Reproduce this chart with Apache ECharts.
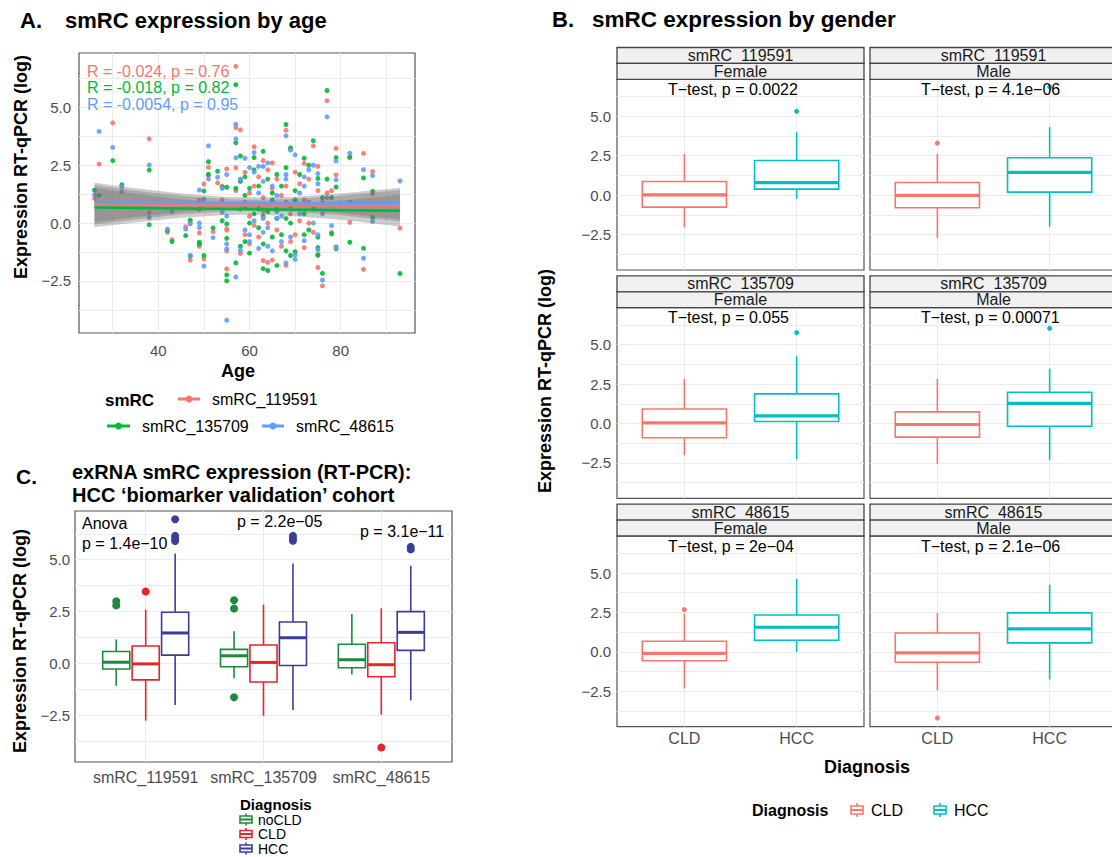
<!DOCTYPE html>
<html>
<head>
<meta charset="utf-8">
<script src="https://cdn.jsdelivr.net/npm/echarts@6/dist/echarts.min.js"></script>
<style>
  html, body { margin: 0; padding: 0; background: #fff; }
  #main { width: 1112px; height: 857px; }
</style>
</head>
<body>
<div id="main"></div>
<script>
var FONT = '"Liberation Sans", Arial, sans-serif';

// ---- data: panel A (expression by age) ----
var smrcNames = ['smRC_119591', 'smRC_135709', 'smRC_48615'];
var smrcColors = ['#F8766D', '#00BA38', '#619CFF'];
var corrLabels = ['R = -0.024, p = 0.76', 'R = -0.018, p = 0.82', 'R = -0.0054, p = 0.95'];
var ages = [26, 27, 30, 32, 38, 38, 42, 43, 46, 47,
  47, 49, 49, 49, 50, 50, 51, 51, 52, 53,
  54, 54, 55, 55, 55, 55, 55, 57, 57, 57,
  57, 58, 58, 58, 59, 59, 59, 60, 60, 60,
  61, 61, 61, 62, 62, 62, 63, 63, 63, 63,
  64, 64, 64, 65, 65, 65, 66, 66, 66, 67,
  67, 68, 68, 68, 68, 69, 69, 69, 70, 70,
  70, 71, 71, 72, 72, 72, 73, 73, 74, 74,
  75, 75, 75, 75, 76, 76, 77, 77, 78, 78,
  79, 79, 79, 82, 82, 85, 85, 87, 87, 93];
var expr119591 = [1.07, 2.55, 4.33, 1.35, 3.64, 0.46, -0.40, -0.72, -0.16, 0.04,
  -1.60, 0.99, -0.43, -1.00, 1.69, -1.55, 2.05, 2.41, -0.37, 1.74,
  1.60, 1.00, 2.34, -0.26, -1.98, -1.20, -0.30, 6.77, 4.13, 1.40,
  2.39, -1.31, 4.03, 1.90, 2.20, 0.90, -0.50, 1.30, -0.90, 0.30,
  3.30, -0.10, 1.60, -0.60, 2.00, 0.80, 2.70, -1.62, 0.50, 1.10,
  -1.70, 0.00, 2.30, -1.60, 1.50, 2.60, -0.30, 0.60, 1.90, -1.00,
  1.20, 4.01, -1.83, 0.90, 1.60, 3.20, 0.40, -0.80, 0.90, -0.50,
  2.20, 0.10, 1.70, 2.58, -1.06, 1.00, 0.00, 1.90, 3.34, -0.40,
  2.45, 1.40, -1.92, -1.40, -2.71, 0.90, 5.29, 1.30, -0.40, 1.40,
  3.23, 2.08, -1.02, 2.82, 0.03, 3.01, -2.00, 2.23, 1.25, -0.22];
var expr135709 = [1.42, 1.20, 2.70, 1.66, 2.29, -0.07, -0.32, -0.80, -0.54, 0.13,
  -1.43, 0.60, -0.83, -0.90, 1.39, -1.40, 2.65, 2.11, -0.21, 2.24,
  1.55, 0.10, 1.55, -0.04, -2.24, -0.66, -2.50, 5.98, 3.47, -1.72,
  1.50, -1.00, 2.90, 1.80, 2.00, 1.20, -0.80, 1.50, -1.30, 0.00,
  2.83, 0.40, 2.30, -0.20, 1.60, 0.60, 3.10, -1.97, -0.90, 0.30,
  -2.05, 0.50, 1.90, -0.60, 1.00, 1.30, -1.83, 0.20, 2.10, -0.50,
  1.60, 4.26, -1.20, 0.20, 2.40, 3.25, 0.00, -1.40, 1.40, -1.24,
  1.00, 0.80, 2.10, 2.80, -0.50, 0.40, -0.30, 2.50, 3.56, 0.60,
  1.93, -1.37, -0.61, -1.06, -2.17, 1.10, 5.73, 1.90, -0.47, 1.10,
  2.83, 1.56, -1.11, 2.86, -0.83, 1.95, -1.09, 1.37, 0.24, -2.18];
var expr48615 = [1.22, 3.96, 3.27, 1.56, 2.51, 0.24, -0.26, 0.50, -0.26, -0.03,
  -1.40, 1.43, 0.00, -0.19, 1.03, -1.86, 3.34, 1.90, -0.63, 1.98,
  1.50, 0.46, 2.10, 0.30, -4.20, -1.12, -0.90, 4.27, 3.64, -2.33,
  2.82, -1.17, 1.89, 0.60, 2.80, 0.70, -0.30, 2.40, -0.80, -0.50,
  3.05, 0.10, 2.20, -1.10, 1.30, 2.45, 2.45, -0.40, 0.20, 1.80,
  -1.00, -0.20, 2.60, -1.20, 0.90, 1.60, 0.20, 0.50, 1.20, -0.80,
  0.30, 3.77, -1.72, 1.90, 2.10, 3.15, -0.60, 0.70, 2.95, -1.38,
  -1.57, 0.40, 1.30, 2.00, -0.76, 1.60, 0.90, 2.30, 2.50, 0.00,
  2.14, 1.70, -1.16, -0.50, -2.46, 0.40, 4.59, 1.10, -0.11, 0.80,
  2.68, 1.87, -1.05, 3.02, 0.90, 2.31, -1.52, 2.05, 0.07, 1.82];
var exprBySmrc = [expr119591, expr135709, expr48615];

// linear fits and their confidence bands
var fitAges = [26, 93];
var fit119591 = [0.79, 0.75];
var fit135709 = [0.67, 0.53];
var fit48615 = [0.89, 0.85];
var fitBySmrc = [fit119591, fit135709, fit48615];
var bandAges = [26, 35, 45, 55, 62, 70, 80, 93];
var band119591Lo = [-0.06, 0.16, 0.38, 0.51, 0.53, 0.48, 0.34, 0.07];
var band119591Hi = [1.64, 1.40, 1.18, 1.03, 1.01, 1.04, 1.18, 1.43];
var band135709Lo = [-0.18, 0.03, 0.23, 0.35, 0.36, 0.30, 0.14, -0.15];
var band135709Hi = [1.52, 1.27, 1.03, 0.87, 0.84, 0.86, 0.98, 1.21];
var band48615Lo = [0.04, 0.26, 0.48, 0.61, 0.63, 0.58, 0.44, 0.17];
var band48615Hi = [1.74, 1.50, 1.28, 1.13, 1.11, 1.14, 1.28, 1.53];
var bandLo = [band119591Lo, band135709Lo, band48615Lo];
var bandHi = [band119591Hi, band135709Hi, band48615Hi];

// ---- data: panel B (by gender), rows = smRC, stats = [low, Q1, median, Q3, high] ----
var genders = ['Female', 'Male'];
var diagB = ['CLD', 'HCC'];
var diagBColors = ['#F8766D', '#00BFC4'];
var ttestLabels = [
  ['T\u2212test, p = 0.0022', 'T\u2212test, p = 4.1e\u221206'],
  ['T\u2212test, p = 0.055', 'T\u2212test, p = 0.00071'],
  ['T\u2212test, p = 2e\u221204', 'T\u2212test, p = 2.1e\u221206']
];
var femaleCLD = [[-2.03, -0.76, 0.02, 0.87, 2.62], [-2.01, -0.90, 0.04, 0.92, 2.84], [-2.32, -0.57, -0.10, 0.67, 2.42]];
var femaleHCC = [[-0.24, 0.38, 0.80, 2.20, 4.00], [-2.27, 0.13, 0.49, 1.88, 4.27], [0.00, 0.74, 1.56, 2.34, 4.62]];
var maleCLD = [[-2.73, -0.80, -0.02, 0.80, 2.62], [-2.56, -0.86, -0.06, 0.74, 2.84], [-2.45, -0.66, -0.07, 1.20, 2.47]];
var maleHCC = [[-2.00, 0.19, 1.44, 2.37, 4.32], [-2.31, -0.17, 1.28, 1.99, 3.48], [-1.75, 0.57, 1.46, 2.47, 4.26]];
var femaleCLDOut = [[], [], [2.68]];
var femaleHCCOut = [[5.32], [5.77], []];
var maleCLDOut = [[3.30], [], [-4.20]];
var maleHCCOut = [[6.87], [6.04], []];

// ---- data: panel C (validation cohort) ----
var diagC = ['noCLD', 'CLD', 'HCC'];
var diagCColors = ['#1B8A3C', '#E3262B', '#3C3C9C'];
var noCLDStats = [[-1.08, -0.27, 0.06, 0.58, 1.16], [-0.71, -0.16, 0.37, 0.68, 1.55], [-0.53, -0.21, 0.18, 0.93, 2.39]];
var cldStats = [[-2.76, -0.79, -0.02, 0.84, 2.60], [-2.52, -0.89, 0.05, 0.89, 2.84], [-2.47, -0.64, -0.06, 1.00, 2.66]];
var hccStats = [[-2.00, 0.40, 1.47, 2.47, 5.30], [-2.24, -0.10, 1.24, 2.00, 4.82], [-1.78, 0.63, 1.50, 2.50, 4.71]];
var noCLDOut = [[2.80, 3.00], [3.05, 2.65, -1.63], []];
var cldOut = [[3.47], [], [-4.05]];
var hccOut = [[6.95, 6.15, 6.02, 5.90], [6.15, 6.02, 5.92], [5.62, 5.50]];
var anovaLabels = ['p = 1.4e\u221210', 'p = 2.2e\u221205', 'p = 3.1e\u221211'];

// ---- axes ----
var yGridVals = [-3.75, -2.5, -1.25, 0, 1.25, 2.5, 3.75, 5, 6.25];
var yTickVals = [-2.5, 0, 2.5, 5];
var Y_MIN = -4.75, Y_MAX = 7.35;

function yFmt(v) { return v < 0 ? '\u2212' + Math.abs(v).toFixed(1) : v.toFixed(1); }

function mkGrid(l, t, w, h) {
  return { left: l, top: t, width: w, height: h, show: true, borderColor: '#555', borderWidth: 1.2,
    backgroundColor: '#fff', containLabel: false, outerBoundsMode: 'none' };
}
function mkY(gi, margin, showLabel) {
  return { type: 'value', gridIndex: gi, min: Y_MIN, max: Y_MAX,
    axisLine: { show: false }, axisTick: { show: false, customValues: yGridVals },
    splitLine: { show: true, lineStyle: { color: '#ebebeb', width: 1 } },
    axisLabel: { show: showLabel, customValues: yTickVals, formatter: yFmt, color: '#4d4d4d', fontSize: 15, fontFamily: FONT, margin: margin } };
}
function mkX(gi, min, max, grid, labels, names, margin, size) {
  return { type: 'value', gridIndex: gi, min: min, max: max,
    axisLine: { show: false }, axisTick: { show: false, customValues: grid },
    splitLine: { show: true, lineStyle: { color: '#ebebeb', width: 1 } },
    axisLabel: { show: !!labels, customValues: labels || [], color: '#4d4d4d', fontSize: size, fontFamily: FONT, margin: margin,
      formatter: function (v) { return names ? names[Math.round(v) - 1] : String(v); } } };
}

// boxplot drawn through the axis scales
function boxSeries(gi, rows, color, boxW, lw, medW) {
  return {
    type: 'custom', xAxisIndex: gi, yAxisIndex: gi, data: rows, z: 3, silent: true,
    encode: { x: 0, y: [1, 2, 3, 4, 5] },
    renderItem: function (params, api) {
      var x = api.value(0);
      var lo = api.coord([x, api.value(1)]), q1 = api.coord([x, api.value(2)]);
      var md = api.coord([x, api.value(3)]), q3 = api.coord([x, api.value(4)]);
      var hi = api.coord([x, api.value(5)]);
      var hw = api.size([boxW, 0])[0] / 2;
      return { type: 'group', children: [
        { type: 'line', shape: { x1: lo[0], y1: lo[1], x2: q1[0], y2: q1[1] }, style: { stroke: color, lineWidth: lw } },
        { type: 'line', shape: { x1: q3[0], y1: q3[1], x2: hi[0], y2: hi[1] }, style: { stroke: color, lineWidth: lw } },
        { type: 'rect', shape: { x: q1[0] - hw, y: q3[1], width: hw * 2, height: q1[1] - q3[1] }, style: { fill: '#fff', stroke: color, lineWidth: lw } },
        { type: 'line', shape: { x1: md[0] - hw, y1: md[1], x2: md[0] + hw, y2: md[1] }, style: { stroke: color, lineWidth: medW } }
      ] };
    }
  };
}
function outSeries(gi, pts, color, size) {
  return { type: 'scatter', xAxisIndex: gi, yAxisIndex: gi, data: pts, symbolSize: size, z: 4, silent: true,
    itemStyle: { color: color, opacity: 1 } };
}

var grids = [], xAxes = [], yAxes = [], series = [], graphics = [];

// ---- panel A ----
grids.push(mkGrid(79, 53, 336, 280));
xAxes.push(mkX(0, 22.6, 96.3, [30, 40, 50, 60, 70, 80, 90], [40, 60, 80], null, 10, 15));
yAxes.push(mkY(0, 8, true));
smrcNames.forEach(function (name, s) {
  series.push({ type: 'scatter', name: name, xAxisIndex: 0, yAxisIndex: 0, symbolSize: 5, z: 2, silent: true,
    itemStyle: { color: smrcColors[s], opacity: 0.9 },
    data: ages.map(function (a, i) { return [a, exprBySmrc[s][i]]; }) });
});
smrcNames.forEach(function (name, s) {
  series.push({
    type: 'custom', xAxisIndex: 0, yAxisIndex: 0, z: 5, silent: true,
    data: bandAges.map(function (a, i) { return [a, bandLo[s][i], bandHi[s][i]]; }),
    encode: { x: 0, y: [1, 2] },
    renderItem: function (params, api) {
      if (params.dataIndexInside !== 0) return null;
      var n = params.dataInsideLength, pts = [], i;
      for (i = 0; i < n; i++) pts.push(api.coord([api.value(0, i), api.value(2, i)]));
      for (i = n - 1; i >= 0; i--) pts.push(api.coord([api.value(0, i), api.value(1, i)]));
      return { type: 'polygon', shape: { points: pts }, style: { fill: 'rgba(115,115,115,0.36)' } };
    }
  });
});
smrcNames.forEach(function (name, s) {
  series.push({ type: 'line', xAxisIndex: 0, yAxisIndex: 0, z: 6, silent: true, symbol: 'none',
    lineStyle: { color: smrcColors[s], width: 2.5 }, itemStyle: { color: smrcColors[s] },
    data: fitAges.map(function (a, i) { return [a, fitBySmrc[s][i]]; }) });
});

// ---- panel C ----
var dodgeC = [-0.25, 0, 0.25];
var statsC = [noCLDStats, cldStats, hccStats];
var outC = [noCLDOut, cldOut, hccOut];
grids.push(mkGrid(75, 511, 377, 251));
xAxes.push(mkX(1, 0.4, 3.6, [1, 2, 3], [1, 2, 3], smrcNames, 7, 16));
yAxes.push(mkY(1, 5, true));
diagC.forEach(function (d, k) {
  series.push(boxSeries(1, statsC[k].map(function (st, i) { return [i + 1 + dodgeC[k]].concat(st); }), diagCColors[k], 0.23, 1.6, 3));
  var pts = [];
  outC[k].forEach(function (vals, i) { vals.forEach(function (v) { pts.push([i + 1 + dodgeC[k], v]); }); });
  series.push(outSeries(1, pts, diagCColors[k], 8));
});

// ---- panel B (3 rows x 2 columns of facets) ----
var bCols = [617, 870], bRowTops = [79.3, 307.7, 536], bW = 247, bH = 190.7, stripH = 15.9;
var statsB = [[femaleCLD, femaleHCC], [maleCLD, maleHCC]];
var outB = [[femaleCLDOut, femaleHCCOut], [maleCLDOut, maleHCCOut]];
for (var r = 0; r < 3; r++) {
  for (var c = 0; c < 2; c++) {
    var gi = grids.length;
    grids.push(mkGrid(bCols[c], bRowTops[r], bW, bH));
    xAxes.push(mkX(gi, 0.4, 2.6, [1, 2], r === 2 ? [1, 2] : null, diagB, 4, 16));
    yAxes.push(mkY(gi, 6, c === 0));
    for (var d = 0; d < 2; d++) {
      series.push(boxSeries(gi, [[d + 1].concat(statsB[c][d][r])], diagBColors[d], 0.75, 1.6, 3.2));
      series.push(outSeries(gi, outB[c][d][r].map(function (v) { return [d + 1, v]; }), diagBColors[d], 5));
    }
  }
}

// ---- text, strips, legends ----
function txt(x, y, s, o) {
  o = o || {};
  return { type: 'text', x: x, y: y, rotation: o.rot || 0, silent: true, z: 100,
    style: { text: s, fill: o.color || '#000', fontSize: o.size || 16, fontWeight: o.bold ? 'bold' : 'normal',
      fontFamily: FONT, textAlign: o.align || 'left', textVerticalAlign: 'middle', verticalAlign: 'middle' } };
}
function boxIcon(cx, cy, color, h) {
  h = h || 7;
  return [
    { type: 'line', silent: true, z: 100, shape: { x1: cx, y1: cy - h, x2: cx, y2: cy + h }, style: { stroke: color, lineWidth: 1.6 } },
    { type: 'rect', silent: true, z: 100, shape: { x: cx - 6, y: cy - h * 0.58, width: 12, height: h * 1.16 }, style: { fill: '#fff', stroke: color, lineWidth: 1.6 } },
    { type: 'line', silent: true, z: 100, shape: { x1: cx - 6, y1: cy, x2: cx + 6, y2: cy }, style: { stroke: color, lineWidth: 2 } }
  ];
}
function pointIcon(x1, x2, cy, color) {
  return [
    { type: 'line', silent: true, z: 100, shape: { x1: x1, y1: cy, x2: x2, y2: cy }, style: { stroke: color, lineWidth: 3 } },
    { type: 'circle', silent: true, z: 100, shape: { cx: (x1 + x2) / 2, cy: cy, r: 3.5 }, style: { fill: color } }
  ];
}

// titles
graphics.push(txt(20, 20, 'A.', { bold: true, size: 22 }));
graphics.push(txt(65, 20, 'smRC expression by age', { bold: true, size: 22 }));
graphics.push(txt(552, 19, 'B.', { bold: true, size: 22 }));
graphics.push(txt(592, 19, 'smRC expression by gender', { bold: true, size: 22.5 }));
graphics.push(txt(16, 476, 'C.', { bold: true, size: 21 }));
graphics.push(txt(72, 472, 'exRNA smRC expression (RT-PCR):', { bold: true, size: 20 }));
graphics.push(txt(72, 495, 'HCC \u2018biomarker validation\u2019 cohort', { bold: true, size: 20 }));

// axis titles
graphics.push(txt(21, 167, 'Expression RT-qPCR (log)', { bold: true, size: 18, align: 'center', rot: Math.PI / 2 }));
graphics.push(txt(238, 371, 'Age', { bold: true, size: 18, align: 'center' }));
graphics.push(txt(20, 641, 'Expression RT-qPCR (log)', { bold: true, size: 18, align: 'center', rot: Math.PI / 2 }));
graphics.push(txt(545, 381, 'Expression RT-qPCR (log)', { bold: true, size: 18, align: 'center', rot: Math.PI / 2 }));
graphics.push(txt(867, 767, 'Diagnosis', { bold: true, size: 18, align: 'center' }));

// panel A annotations + legend
corrLabels.forEach(function (s, k) { graphics.push(txt(87, 71 + k * 16.5, s, { color: smrcColors[k], size: 16 })); });
graphics.push(txt(105, 400, 'smRC', { bold: true, size: 17 }));
graphics = graphics.concat(pointIcon(178, 200, 399, smrcColors[0]));
graphics.push(txt(212, 399, smrcNames[0], { size: 16 }));
graphics = graphics.concat(pointIcon(107, 130, 426, smrcColors[1]));
graphics.push(txt(142, 426, smrcNames[1], { size: 16 }));
graphics = graphics.concat(pointIcon(262, 284, 426, smrcColors[2]));
graphics.push(txt(296, 426, smrcNames[2], { size: 16 }));

// panel C annotations + legend
graphics.push(txt(82, 523, 'Anova', { size: 16 }));
graphics.push(txt(82, 543, anovaLabels[0], { size: 16 }));
graphics.push(txt(237, 521, anovaLabels[1], { size: 16 }));
graphics.push(txt(360, 531, anovaLabels[2], { size: 16 }));
graphics.push(txt(240, 804, 'Diagnosis', { bold: true, size: 15 }));
diagC.forEach(function (d, k) {
  graphics = graphics.concat(boxIcon(246, 819.5 + k * 14.5, diagCColors[k], 6));
  graphics.push(txt(258, 819.5 + k * 14.5, d, { size: 14 }));
});

// panel B strips, test labels, legend
for (var rr = 0; rr < 3; rr++) {
  for (var cc = 0; cc < 2; cc++) {
    var L = bCols[cc], T = bRowTops[rr] - 2 * stripH;
    graphics.push({ type: 'rect', silent: true, z: 90, shape: { x: L, y: T, width: bW, height: stripH }, style: { fill: '#f0f0f0', stroke: '#444', lineWidth: 1.3 } });
    graphics.push(txt(L + bW / 2, T + stripH / 2, smrcNames[rr], { align: 'center', size: 16, color: '#1a1a1a' }));
    graphics.push({ type: 'rect', silent: true, z: 101, shape: { x: L, y: T + stripH, width: bW, height: stripH }, style: { fill: '#f0f0f0', stroke: '#444', lineWidth: 1.3 } });
    graphics.push({ type: 'text', x: L + bW / 2, y: T + stripH * 1.5, silent: true, z: 102,
      style: { text: genders[cc], fill: '#1a1a1a', fontSize: 16, fontFamily: FONT, textAlign: 'center', textVerticalAlign: 'middle', verticalAlign: 'middle' } });
    graphics.push(txt(L + 51, bRowTops[rr] + 10, ttestLabels[rr][cc], { size: 16 }));
  }
}
graphics.push(txt(752, 810, 'Diagnosis', { bold: true, size: 16 }));
graphics = graphics.concat(boxIcon(857, 810, diagBColors[0]));
graphics.push(txt(871, 810, diagB[0], { size: 16 }));
graphics = graphics.concat(boxIcon(940, 810, diagBColors[1]));
graphics.push(txt(954, 810, diagB[1], { size: 16 }));

var chart = echarts.init(document.getElementById('main'), null, { renderer: 'svg' });
chart.setOption({
  animation: false,
  backgroundColor: '#fff',
  textStyle: { fontFamily: FONT },
  grid: grids,
  xAxis: xAxes,
  yAxis: yAxes,
  series: series,
  graphic: graphics
});
window.onresize = chart.resize;
</script>
</body>
</html>
